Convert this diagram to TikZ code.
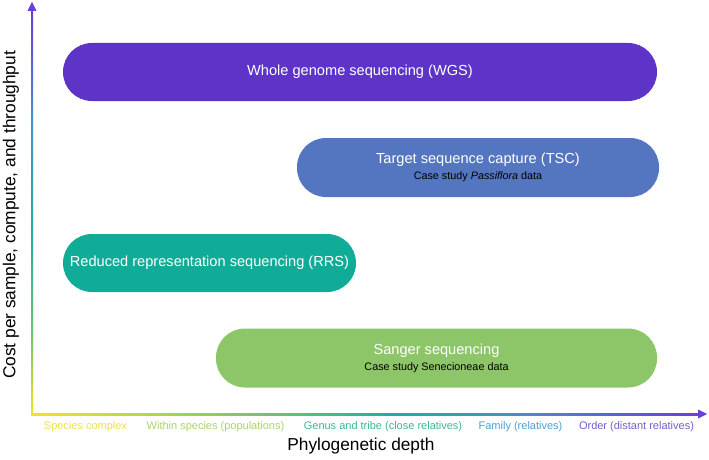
\documentclass[tikz,border=0pt]{standalone}
\usepackage{fontspec}
\setmainfont{Liberation Sans}
\definecolor{cwgs}{HTML}{5E33C8}
\definecolor{ctsc}{HTML}{5476C0}
\definecolor{crrs}{HTML}{11AC97}
\definecolor{csan}{HTML}{8DC569}
\definecolor{cyel}{HTML}{F2E41E}
\definecolor{cygr}{HTML}{B8D84A}
\definecolor{cgrn}{HTML}{6CC56E}
\definecolor{cteal}{HTML}{22ADA2}
\definecolor{cblu}{HTML}{4A8CCB}
\definecolor{cpur}{HTML}{6A3FD6}
\definecolor{lyel}{HTML}{ECE24A}
\definecolor{lgrn}{HTML}{A8D46A}
\definecolor{lteal}{HTML}{3FB39A}
\definecolor{lblu}{HTML}{4AA0D0}
\definecolor{lpur}{HTML}{7A5CCC}
\pgfdeclarehorizontalshading{xgrad}{100bp}{color(0bp)=(cyel); color(25bp)=(cyel); color(33bp)=(cygr); color(43bp)=(cgrn); color(52bp)=(cteal); color(62bp)=(cblu); color(75bp)=(cpur); color(100bp)=(cpur)}
\pgfdeclareverticalshading{ygrad}{100bp}{color(0bp)=(cyel); color(25bp)=(cyel); color(35bp)=(cgrn); color(48bp)=(cteal); color(62bp)=(cblu); color(75bp)=(cpur); color(100bp)=(cpur)}
\tikzset{
  band/.style={rectangle, rounded corners=28.9pt, minimum height=58pt, inner sep=0pt,
    text=white, font=\fontsize{14.6}{16}\selectfont, align=center},
  subt/.style={text=black, font=\fontsize{10.8}{12}\selectfont},
  tick/.style={font=\fontsize{11}{13}\selectfont, anchor=center},
  axlabel/.style={font=\fontsize{17.3}{20}\selectfont, text=black}
}
\begin{document}
\begin{tikzpicture}[x=1pt,y=-1pt]
\useasboundingbox (0,0) rectangle (709,460);
% axes
\coordinate (O) at (32,414);
\coordinate (X) at (698,414);
\coordinate (Y) at (32,11);
\shade[shading=xgrad] (31,413) rectangle (698,415);
\shade[shading=ygrad] (31,415) rectangle (33,11);
\fill[cpur] (X) ++(0,-4.5) -- ++(9,4.5) -- ++(-9,4.5) -- cycle;
\fill[cpur] (Y) ++(-4.5,0) -- ++(4.5,-9) -- ++(4.5,9) -- cycle;
% bands
\node[band, fill=cwgs, minimum width=594pt] (wgs) at (360,72) {Whole genome sequencing (WGS)};
\node[band, fill=ctsc, minimum width=362pt, minimum height=59pt] (tsc) at (478,167.5)
  {Target sequence capture (TSC)\\[0pt]{\fontsize{10.8}{12}\selectfont\color{black}Case study \textit{Passiflora} data}};
\node[band, fill=crrs, minimum width=293pt] (rrs) at (209.5,263) {Reduced representation sequencing (RRS)};
\node[band, fill=csan, minimum width=441pt, minimum height=59pt] (san) at (436.5,358)
  {Sanger sequencing\\[0pt]{\fontsize{10.8}{12}\selectfont\color{black}Case study Senecioneae data}};
% tick labels
\node[tick, text=lyel] (t1) at (85.5,427) {Species complex};
\node[tick, text=lgrn] (t2) at (215.5,427) {Within species (populations)};
\node[tick, text=lteal] (t3) at (383,427) {Genus and tribe (close relatives)};
\node[tick, text=lblu] (t4) at (520.5,427) {Family (relatives)};
\node[tick, text=lpur] (t5) at (636.5,427) {Order (distant relatives)};
% axis labels
\node[axlabel] (xl) at (361,446) {Phylogenetic depth};
\node[axlabel, rotate=90] (yl) at (11,215) {Cost per sample, compute, and throughput};
\end{tikzpicture}
\end{document}
